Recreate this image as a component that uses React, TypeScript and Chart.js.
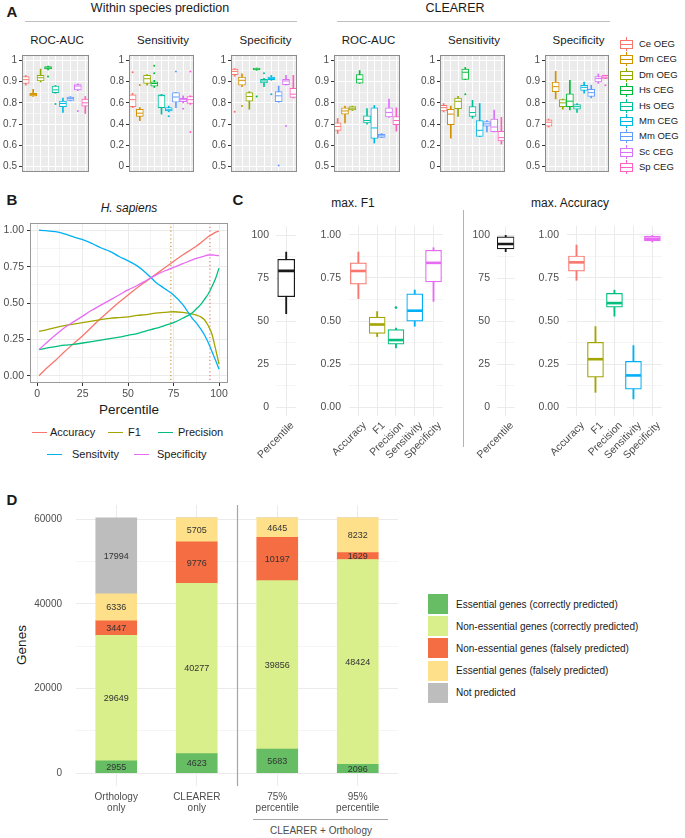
import React, { useEffect, useRef } from 'react';
import { Chart, registerables } from 'chart.js';

Chart.register(...registerables);

const FONT = '"Liberation Sans", Arial, Helvetica, sans-serif';
Chart.defaults.font.family = FONT;
const AXIS_TEXT = '#4D4D4D';
const TITLE_TEXT = '#1A1A1A';

// ---------------- Panel A data ----------------
const speciesSets = ['Ce OEG', 'Dm CEG', 'Dm OEG', 'Hs CEG', 'Hs OEG', 'Mm CEG', 'Mm OEG', 'Sc CEG', 'Sp CEG'];
const speciesColors = ['#F8766D', '#D39200', '#93AA00', '#00BA38', '#00C19F', '#00B9E3', '#619CFF', '#DB72FB', '#FF61C3'];

// each row: [min, q1, median, q3, max]
const withinRocAuc = [
  [0.883, 0.891, 0.909, 0.924, 0.929],
  [0.830, 0.833, 0.839, 0.845, 0.864],
  [0.898, 0.903, 0.918, 0.929, 0.959],
  [0.955, 0.959, 0.964, 0.970, 0.973],
  [0.845, 0.848, 0.861, 0.879, 0.882],
  [0.755, 0.782, 0.797, 0.808, 0.823],
  [0.809, 0.812, 0.820, 0.827, 0.830],
  [0.857, 0.861, 0.879, 0.886, 0.890],
  [0.750, 0.785, 0.800, 0.818, 0.830],
];
const withinRocAucOutliers = [[3, 0.924], [4, 0.795], [7, 0.762]];

const withinSensitivity = [
  [0.555, 0.564, 0.630, 0.676, 0.690],
  [0.433, 0.473, 0.503, 0.540, 0.555],
  [0.767, 0.782, 0.827, 0.858, 0.867],
  [0.745, 0.758, 0.782, 0.797, 0.812],
  [0.494, 0.555, 0.668, 0.676, 0.680],
  [0.515, 0.524, 0.535, 0.555, 0.570],
  [0.555, 0.606, 0.655, 0.697, 0.700],
  [0.600, 0.612, 0.630, 0.642, 0.667],
  [0.585, 0.594, 0.630, 0.660, 0.667],
];
const withinSensitivityOutliers = [[0, 0.888], [1, 0.767], [3, 0.948], [3, 0.879], [5, 0.473], [6, 0.894], [7, 0.545], [8, 0.894], [8, 0.327]];

const withinSpecificity = [
  [0.925, 0.933, 0.948, 0.959, 0.962],
  [0.876, 0.883, 0.906, 0.921, 0.936],
  [0.770, 0.808, 0.830, 0.848, 0.853],
  [0.953, 0.955, 0.958, 0.962, 0.964],
  [0.876, 0.894, 0.903, 0.911, 0.915],
  [0.906, 0.909, 0.915, 0.921, 0.929],
  [0.803, 0.806, 0.833, 0.853, 0.879],
  [0.883, 0.886, 0.903, 0.911, 0.929],
  [0.823, 0.826, 0.841, 0.868, 0.929],
];
const withinSpecificityOutliers = [[0, 0.758], [1, 0.785], [3, 0.830], [4, 0.939], [5, 0.841], [6, 0.505], [7, 0.691]];

const clearerRocAuc = [
  [0.656, 0.671, 0.689, 0.706, 0.727],
  [0.706, 0.747, 0.762, 0.777, 0.785],
  [0.764, 0.767, 0.775, 0.782, 0.785],
  [0.891, 0.893, 0.911, 0.933, 0.952],
  [0.700, 0.706, 0.717, 0.739, 0.773],
  [0.611, 0.633, 0.682, 0.777, 0.788],
  [0.636, 0.638, 0.645, 0.652, 0.656],
  [0.732, 0.734, 0.755, 0.777, 0.818],
  [0.667, 0.697, 0.717, 0.736, 0.777],
];
const clearerRocAucOutliers: number[][] = [];

const clearerSensitivity = [
  [0.515, 0.524, 0.555, 0.576, 0.594],
  [0.267, 0.394, 0.494, 0.539, 0.570],
  [0.473, 0.545, 0.615, 0.645, 0.661],
  [0.818, 0.820, 0.888, 0.918, 0.933],
  [0.455, 0.473, 0.509, 0.564, 0.624],
  [0.282, 0.284, 0.342, 0.433, 0.594],
  [0.327, 0.382, 0.403, 0.424, 0.433],
  [0.327, 0.329, 0.373, 0.448, 0.533],
  [0.212, 0.242, 0.273, 0.333, 0.464],
];
const clearerSensitivityOutliers = [[3, 0.682]];

const clearerSpecificity = [
  [0.686, 0.691, 0.709, 0.720, 0.724],
  [0.818, 0.853, 0.876, 0.898, 0.948],
  [0.770, 0.782, 0.800, 0.815, 0.818],
  [0.767, 0.782, 0.808, 0.842, 0.906],
  [0.755, 0.770, 0.782, 0.792, 0.797],
  [0.845, 0.858, 0.873, 0.883, 0.898],
  [0.823, 0.830, 0.848, 0.864, 0.883],
  [0.891, 0.898, 0.914, 0.924, 0.936],
  [0.914, 0.915, 0.921, 0.929, 0.930],
];
const clearerSpecificityOutliers = [[8, 0.883]];

const aTicksHigh = [0.5, 0.6, 0.7, 0.8, 0.9, 1];
const aMinorHigh = [0.55, 0.65, 0.75, 0.85, 0.95];
const aTicksFull = [0, 0.2, 0.4, 0.6, 0.8, 1];
const aMinorFull = [0.1, 0.3, 0.5, 0.7, 0.9];

// ---------------- Panel B data ----------------
const percentiles = [1, 5, 10, 15, 20, 25, 30, 35, 40, 45, 50, 55, 60, 65, 70, 75, 80, 85, 88, 90, 92, 94, 96, 98, 100];
const accuracy = [0.0, 0.05, 0.105, 0.165, 0.22, 0.275, 0.335, 0.395, 0.45, 0.505, 0.555, 0.605, 0.65, 0.695, 0.74, 0.785, 0.83, 0.87, 0.895, 0.915, 0.935, 0.955, 0.97, 0.985, 0.995];
const f1 = [0.305, 0.315, 0.33, 0.345, 0.355, 0.365, 0.375, 0.385, 0.395, 0.4, 0.405, 0.415, 0.42, 0.43, 0.435, 0.44, 0.435, 0.425, 0.415, 0.405, 0.385, 0.345, 0.29, 0.19, 0.08];
const precision = [0.18, 0.19, 0.2, 0.21, 0.215, 0.225, 0.235, 0.245, 0.255, 0.265, 0.278, 0.29, 0.308, 0.325, 0.345, 0.365, 0.395, 0.43, 0.465, 0.49, 0.525, 0.56, 0.61, 0.665, 0.74];
const sensitivity = [1.0, 0.997, 0.99, 0.975, 0.955, 0.935, 0.91, 0.88, 0.855, 0.82, 0.79, 0.755, 0.705, 0.645, 0.6, 0.555, 0.49, 0.4, 0.355, 0.32, 0.28, 0.23, 0.17, 0.11, 0.045];
const specificity = [0.18, 0.225, 0.28, 0.33, 0.37, 0.41, 0.45, 0.485, 0.52, 0.555, 0.59, 0.62, 0.655, 0.69, 0.72, 0.745, 0.77, 0.795, 0.808, 0.815, 0.823, 0.83, 0.83, 0.828, 0.825];
const bSeriesNames = ['Accuracy', 'F1', 'Precision', 'Sensitvity', 'Specificity'];
const bSeriesColors = ['#F8766D', '#A3A500', '#00BF7D', '#00B0F6', '#E76BF3'];
const optimumPercentiles = [73.5, 95];
const optimumColors = ['#C9A24A', '#F08080'];
const bXTicks = [0, 25, 50, 75, 100];
const bXMinor = [12.5, 37.5, 62.5, 87.5];
const bYTicks = [0, 0.25, 0.5, 0.75, 1];
const bYMinor = [0.125, 0.375, 0.625, 0.875];

// ---------------- Panel C data ----------------
const cPercentileLabel = ['Percentile'];
const cMetrics = ['Accuracy', 'F1', 'Precision', 'Sensitivity', 'Specificity'];
const cMetricColors = ['#F8766D', '#A3A500', '#00BF7D', '#00B0F6', '#E76BF3'];
const f1Percentile = [[54.5, 64.3, 79.3, 86.0, 90.2]];
const f1Metrics = [
  [0.63, 0.714, 0.79, 0.837, 0.90],
  [0.41, 0.429, 0.48, 0.523, 0.555],
  [0.344, 0.366, 0.39, 0.45, 0.46],
  [0.47, 0.50, 0.56, 0.658, 0.68],
  [0.614, 0.727, 0.837, 0.91, 0.925],
];
const f1MetricOutliers = [[2, 0.578]];
const accPercentile = [[90.5, 92.0, 94.9, 99.0, 100]];
const accMetrics = [
  [0.736, 0.789, 0.84, 0.877, 0.94],
  [0.087, 0.175, 0.279, 0.377, 0.468],
  [0.528, 0.581, 0.604, 0.66, 0.679],
  [0.049, 0.106, 0.185, 0.266, 0.358],
  [0.958, 0.964, 0.977, 0.992, 0.996],
];
const cPctTicks = [0, 25, 50, 75, 100];
const cPctMinor = [12.5, 37.5, 62.5, 87.5];
const cValTicks = [0, 0.25, 0.5, 0.75, 1];
const cValMinor = [0.125, 0.375, 0.625, 0.875];

// ---------------- Panel D data ----------------
const dCategories = [['Orthology', 'only'], ['CLEARER', 'only'], ['75%', 'percentile'], ['95%', 'percentile']];
const essentialCorrect = [2955, 4623, 5683, 2096];
const nonEssentialCorrect = [29649, 40277, 39856, 48424];
const nonEssentialFalse = [3447, 9776, 10197, 1629];
const essentialFalse = [6336, 5705, 4645, 8232];
const notPredicted = [17994, 0, 0, 0];
const dSeriesNames = [
  'Essential genes (correctly predicted)',
  'Non-essential genes (correctly predicted)',
  'Non-essential genes (falsely predicted)',
  'Essential genes (falsely predicted)',
  'Not predicted',
];
const dSeriesColors = ['#66BD63', '#D9EF8B', '#F46D43', '#FEE08B', '#BDBDBD'];
const dTicks = [0, 20000, 40000, 60000];
const dMinor = [10000, 30000, 50000];

// ---------------- helpers ----------------
const baseOptions = () => ({
  animation: false,
  responsive: false,
  maintainAspectRatio: false,
  devicePixelRatio: 1,
  events: [],
  plugins: { legend: { display: false }, tooltip: { enabled: false }, title: { display: false } },
});

const noPad = (s: any) => {
  s.paddingLeft = 0;
  s.paddingRight = 0;
  s.paddingTop = 0;
  s.paddingBottom = 0;
};

function valueAxis(o: any) {
  const all = [...o.majors, ...o.minors].sort((a: number, b: number) => a - b);
  const isMajor = (v: any) => o.majors.some((m: number) => Math.abs(m - v) < 1e-9);
  return {
    type: 'linear',
    min: o.min,
    max: o.max,
    afterBuildTicks: (s: any) => { s.ticks = all.map((v: number) => ({ value: v })); },
    afterFit: (s: any) => {
      if (o.horizontal) s.height = o.size2; else s.width = o.size2;
      noPad(s);
    },
    ticks: {
      autoSkip: false,
      padding: o.pad,
      color: AXIS_TEXT,
      font: { size: o.font, family: FONT },
      maxRotation: 0,
      minRotation: 0,
      callback: (v: any) => (isMajor(v) ? o.fmt(v) : ''),
    },
    grid: {
      color: o.grid,
      lineWidth: (c: any) => (c.tick && isMajor(c.tick.value) ? 1 : 0.5),
      drawTicks: !!o.tickMark,
      tickLength: 3,
      tickWidth: 1,
      tickColor: (c: any) => (c.tick && isMajor(c.tick.value) ? o.tickMark : 'rgba(0,0,0,0)'),
    },
    border: { display: false },
  };
}

function catAxis(o: any) {
  return {
    type: 'category',
    offset: true,
    stacked: !!o.stacked,
    afterFit: (s: any) => { s.height = o.height; noPad(s); },
    grid: { offset: false, color: o.grid, lineWidth: 1, drawTicks: false },
    border: { display: false },
    ticks: {
      display: !!o.labels,
      autoSkip: false,
      color: AXIS_TEXT,
      font: { size: o.font || 10, family: FONT, lineHeight: 1.1 },
      maxRotation: 0,
      minRotation: 0,
      padding: o.pad ?? 2,
    },
  };
}

function boxDatasets(labels: string[], stats: number[][], colors: string[], outliers: number[][], s: any) {
  return [
    {
      type: 'line', data: stats.map((q) => q[2]), showLine: false, pointStyle: 'line',
      pointRadius: s.box / 2 - 0.5, pointBorderWidth: s.median, pointBorderColor: colors,
      pointBackgroundColor: colors, order: 0,
    },
    {
      type: 'line', data: outliers.map(([i, v]) => ({ x: labels[i], y: v })), showLine: false,
      pointStyle: 'circle', pointRadius: s.point, pointBorderWidth: 0,
      pointBackgroundColor: outliers.map(([i]) => colors[i]), order: 0,
    },
    {
      type: 'bar', data: stats.map((q) => [q[1], q[3]]), backgroundColor: '#FFFFFF', borderColor: colors,
      borderWidth: s.line, borderSkipped: false, barThickness: s.box, grouped: false, order: 1,
    },
    {
      type: 'bar', data: stats.map((q) => [q[0], q[4]]), backgroundColor: colors, borderWidth: 0,
      barThickness: s.line, grouped: false, order: 2,
    },
  ];
}

function panelPlugin(bg: string | null, border: string | null) {
  return {
    id: 'panelDeco',
    beforeDraw(chart: any) {
      if (!bg) return;
      const { ctx, chartArea: a } = chart;
      ctx.save();
      ctx.fillStyle = bg;
      ctx.fillRect(a.left, a.top, a.right - a.left, a.bottom - a.top);
      ctx.restore();
    },
    afterDraw(chart: any) {
      if (!border) return;
      const { ctx, chartArea: a } = chart;
      ctx.save();
      ctx.strokeStyle = border;
      ctx.lineWidth = 1;
      ctx.strokeRect(Math.round(a.left) + 0.5, Math.round(a.top) + 0.5, Math.round(a.right - a.left) - 1, Math.round(a.bottom - a.top) - 1);
      ctx.restore();
    },
  };
}

// x labels of panel C, drawn at exactly 45 degrees with their end at each category tick
const rotatedLabelPlugin = {
  id: 'rotatedLabels',
  afterDraw(chart: any) {
    const { ctx, chartArea: a } = chart;
    const xs = chart.scales.x;
    ctx.save();
    ctx.font = `10.5px ${FONT}`;
    ctx.fillStyle = AXIS_TEXT;
    ctx.textAlign = 'right';
    ctx.textBaseline = 'top';
    chart.data.labels.forEach((lab: string, i: number) => {
      const px = xs.getPixelForValue(i);
      ctx.save();
      ctx.translate(px + 2.5, a.bottom + 4);
      ctx.rotate(-Math.PI / 4);
      ctx.fillText(lab, 0, 0);
      ctx.restore();
    });
    ctx.restore();
  },
};

const trim = (v: number) => String(Number(v.toFixed(2)));

function ChartCanvas({ left, top, width, height, make }: any) {
  const ref = useRef<HTMLCanvasElement>(null);
  useEffect(() => {
    const chart = new Chart(ref.current as HTMLCanvasElement, make());
    return () => chart.destroy();
  }, []);
  return (
    <canvas
      ref={ref}
      width={width}
      height={height}
      style={{ position: 'absolute', left, top, width, height, display: 'block' }}
    />
  );
}

function Txt({ x, y, children, size = 11, align = 'center', color = TITLE_TEXT, bold = false, italic = false, w = 300 }: any) {
  const lh = Math.round(size * 1.25);
  const left = align === 'center' ? x - w / 2 : x;
  return (
    <div
      style={{
        position: 'absolute', left, top: y - lh / 2, width: w, height: lh, lineHeight: `${lh}px`,
        fontSize: size, textAlign: align, color, fontWeight: bold ? 700 : 400,
        fontStyle: italic ? 'italic' : 'normal', fontFamily: FONT, whiteSpace: 'nowrap',
      }}
    >
      {children}
    </div>
  );
}

function HLine({ x, y, w, color = '#BFBFBF', t = 1 }: any) {
  return <div style={{ position: 'absolute', left: x, top: y, width: w, height: t, background: color }} />;
}
function VLine({ x, y, h, color = '#B3B3B3', t = 1 }: any) {
  return <div style={{ position: 'absolute', left: x, top: y, width: t, height: h, background: color }} />;
}

// ---------------- Panel A ----------------
const aPanels = [
  { L: 22, R: 92, title: 'ROC-AUC', stats: withinRocAuc, out: withinRocAucOutliers, majors: aTicksHigh, minors: aMinorHigh },
  { L: 129, R: 197, title: 'Sensitivity', stats: withinSensitivity, out: withinSensitivityOutliers, majors: aTicksFull, minors: aMinorFull },
  { L: 231, R: 300, title: 'Specificity', stats: withinSpecificity, out: withinSpecificityOutliers, majors: aTicksHigh, minors: aMinorHigh },
  { L: 334, R: 403, title: 'ROC-AUC', stats: clearerRocAuc, out: clearerRocAucOutliers, majors: aTicksHigh, minors: aMinorHigh },
  { L: 440, R: 508, title: 'Sensitivity', stats: clearerSensitivity, out: clearerSensitivityOutliers, majors: aTicksFull, minors: aMinorFull },
  { L: 545, R: 612, title: 'Specificity', stats: clearerSpecificity, out: clearerSpecificityOutliers, majors: aTicksHigh, minors: aMinorHigh },
];

function makeA(p: any) {
  return () => {
    const lo = p.majors[0];
    const hi = p.majors[p.majors.length - 1];
    const ext = (hi - lo) * 0.05;
    return {
      type: 'bar',
      data: { labels: speciesSets, datasets: boxDatasets(speciesSets, p.stats, speciesColors, p.out, { box: 7, line: 1, median: 1, point: 1 }) },
      options: {
        ...baseOptions(),
        layout: { padding: { top: 4, bottom: 4, left: 0, right: 2 } },
        scales: {
          x: catAxis({ grid: '#FFFFFF', height: 0 }),
          y: valueAxis({ min: lo - ext, max: hi + ext, majors: p.majors, minors: p.minors, fmt: trim, size2: 24, grid: '#FFFFFF', tickMark: '#333333', pad: 2, font: 10 }),
        },
      },
      plugins: [panelPlugin('#EBEBEB', '#8C8C8C')],
    };
  };
}

function LegendA() {
  return (
    <>
      {speciesSets.map((s, i) => {
        const cy = 44 + i * 15.4;
        const c = speciesColors[i];
        return (
          <React.Fragment key={s}>
            <div style={{ position: 'absolute', left: 626, top: cy - 7, width: 1, height: 14, background: c }} />
            <div style={{ position: 'absolute', left: 620, top: cy - 4, width: 11, height: 7, border: `1px solid ${c}`, background: '#fff' }} />
            <div style={{ position: 'absolute', left: 621, top: cy, width: 11, height: 1, background: c }} />
            <Txt x={639} y={cy} size={9.5} align="left" w={50}>{s}</Txt>
          </React.Fragment>
        );
      })}
    </>
  );
}

// ---------------- Panel B ----------------
const optimumPlugin = {
  id: 'optimum',
  beforeDatasetsDraw(chart: any) {
    const { ctx, chartArea: a } = chart;
    const xs = chart.scales.x;
    ctx.save();
    ctx.setLineDash([1.2, 2.6]);
    ctx.lineWidth = 1.3;
    optimumPercentiles.forEach((p, i) => {
      const px = xs.getPixelForValue(p);
      ctx.strokeStyle = optimumColors[i];
      ctx.beginPath();
      ctx.moveTo(px, a.top);
      ctx.lineTo(px, a.bottom);
      ctx.stroke();
    });
    ctx.restore();
  },
};

function makeB() {
  const series = [accuracy, f1, precision, sensitivity, specificity];
  return {
    type: 'line',
    data: {
      datasets: series.map((s, i) => ({
        label: bSeriesNames[i],
        data: percentiles.map((p, j) => ({ x: p, y: s[j] })),
        borderColor: bSeriesColors[i],
        borderWidth: 1.3,
        pointRadius: 0,
        cubicInterpolationMode: 'monotone',
        fill: false,
        order: 5 - i,
      })),
    },
    options: {
      ...baseOptions(),
      layout: { padding: { top: 4, bottom: 0, left: 0, right: 4 } },
      scales: {
        x: valueAxis({ horizontal: true, min: -3.95, max: 104.95, majors: bXTicks, minors: bXMinor, fmt: (v: number) => String(v), size2: 18, grid: '#EBEBEB', tickMark: '#333333', pad: 2, font: 10.5 }),
        y: valueAxis({ min: -0.05, max: 1.05, majors: bYTicks, minors: bYMinor, fmt: (v: number) => v.toFixed(2), size2: 30, grid: '#EBEBEB', tickMark: '#333333', pad: 3, font: 10.5 }),
      },
    },
    plugins: [panelPlugin(null, '#9A9A9A'), optimumPlugin],
  };
}

function LegendB() {
  const items = [
    { i: 0, kx: 32, tx: 50, y: 432 },
    { i: 1, kx: 108, tx: 128, y: 432 },
    { i: 2, kx: 158, tx: 178, y: 432 },
    { i: 3, kx: 47, tx: 72, y: 454 },
    { i: 4, kx: 134, tx: 157, y: 454 },
  ];
  return (
    <>
      {items.map((it) => (
        <React.Fragment key={it.i}>
          <div style={{ position: 'absolute', left: it.kx, top: it.y - 0.5, width: 15, height: 1.3, background: bSeriesColors[it.i] }} />
          <Txt x={it.tx} y={it.y} size={11} align="left" w={80}>{bSeriesNames[it.i]}</Txt>
        </React.Fragment>
      ))}
    </>
  );
}

// ---------------- Panel C ----------------
const C_X_AXIS = { grid: '#EBEBEB', height: 44, labels: false };

function makeCPercentile(stats: number[][]) {
  return () => ({
    type: 'bar',
    data: { labels: cPercentileLabel, datasets: boxDatasets(cPercentileLabel, stats, ['#1A1A1A'], [], { box: 17, line: 1.2, median: 2.6, point: 1.3 }) },
    options: {
      ...baseOptions(),
      layout: { padding: { top: 4, bottom: 0, left: 0, right: 2 } },
      scales: {
        x: catAxis(C_X_AXIS),
        y: valueAxis({ min: -5, max: 105, majors: cPctTicks, minors: cPctMinor, fmt: (v: number) => String(v), size2: 32, grid: '#EBEBEB', tickMark: null, pad: 7, font: 10.5 }),
      },
    },
    plugins: [rotatedLabelPlugin],
  });
}

function makeCMetrics(stats: number[][], outliers: number[][]) {
  return () => ({
    type: 'bar',
    data: { labels: cMetrics, datasets: boxDatasets(cMetrics, stats, cMetricColors, outliers, { box: 16, line: 1.2, median: 2.6, point: 1.3 }) },
    options: {
      ...baseOptions(),
      layout: { padding: { top: 4, bottom: 0, left: 0, right: 4 } },
      scales: {
        x: catAxis(C_X_AXIS),
        y: valueAxis({ min: -0.05, max: 1.05, majors: cValTicks, minors: cValMinor, fmt: (v: number) => v.toFixed(2), size2: 42, grid: '#EBEBEB', tickMark: null, pad: 8, font: 10.5 }),
      },
    },
    plugins: [rotatedLabelPlugin],
  });
}

// ---------------- Panel D ----------------
const segmentLabelPlugin = {
  id: 'segLabels',
  afterDatasetsDraw(chart: any) {
    const { ctx } = chart;
    ctx.save();
    ctx.font = `9px ${FONT}`;
    ctx.fillStyle = '#333333';
    ctx.textAlign = 'center';
    ctx.textBaseline = 'middle';
    chart.data.datasets.forEach((ds: any, di: number) => {
      const meta = chart.getDatasetMeta(di);
      meta.data.forEach((el: any, i: number) => {
        const v = ds.data[i];
        if (!v) return;
        ctx.fillText(String(v), el.x, (el.y + el.base) / 2 + 0.5);
      });
    });
    ctx.restore();
  },
};

const groupSeparatorPlugin = {
  id: 'groupSep',
  afterDatasetsDraw(chart: any) {
    const { ctx, chartArea: a } = chart;
    const px = Math.round(chart.scales.x.getPixelForValue(1.5)) + 0.5;
    ctx.save();
    ctx.strokeStyle = '#A6A6A6';
    ctx.lineWidth = 1.2;
    ctx.beginPath();
    ctx.moveTo(px, a.top);
    ctx.lineTo(px, a.bottom);
    ctx.stroke();
    ctx.restore();
  },
};

function makeD() {
  const series = [essentialCorrect, nonEssentialCorrect, nonEssentialFalse, essentialFalse, notPredicted];
  return {
    type: 'bar',
    data: {
      labels: dCategories,
      datasets: series.map((s, i) => ({
        label: dSeriesNames[i],
        data: s,
        backgroundColor: dSeriesColors[i],
        borderWidth: 0,
        barThickness: 41,
        stack: 'genes',
      })),
    },
    options: {
      ...baseOptions(),
      layout: { padding: { top: 5, bottom: 0, left: 0, right: 4 } },
      scales: {
        x: catAxis({ grid: '#EBEBEB', height: 30, labels: true, font: 10, pad: 6, stacked: true }),
        y: { ...valueAxis({ min: -3019, max: 63400, majors: dTicks, minors: dMinor, fmt: (v: number) => String(v), size2: 46, grid: '#EBEBEB', tickMark: null, pad: 14, font: 10 }), stacked: true },
      },
    },
    plugins: [segmentLabelPlugin, groupSeparatorPlugin],
  };
}

function LegendD() {
  return (
    <>
      {dSeriesNames.map((n, i) => {
        const cy = 604 + i * 22.2;
        return (
          <React.Fragment key={n}>
            <div style={{ position: 'absolute', left: 428, top: cy - 10, width: 20, height: 20, background: dSeriesColors[i] }} />
            <Txt x={456} y={cy} size={10} align="left" w={220}>{n}</Txt>
          </React.Fragment>
        );
      })}
    </>
  );
}

export default function App() {
  return (
    <div style={{ position: 'absolute', left: 0, top: 0, width: 685, height: 838, background: '#FFFFFF', overflow: 'hidden', fontFamily: FONT }}>
      {/* Panel A */}
      <Txt x={12} y={11} size={15} bold w={20}>A</Txt>
      <Txt x={160} y={8} size={12.5}>Within species prediction</Txt>
      <HLine x={25} y={21} w={272} />
      <Txt x={455} y={8} size={12.5}>CLEARER</Txt>
      <HLine x={337} y={21} w={273} />
      {aPanels.map((p, i) => (
        <React.Fragment key={i}>
          <Txt x={(p.L + p.R) / 2} y={40} size={11.5}>{p.title}</Txt>
          <ChartCanvas left={p.L - 24} top={50} width={p.R - p.L + 26} height={127} make={makeA(p)} />
        </React.Fragment>
      ))}
      <LegendA />

      {/* Panel B */}
      <Txt x={12} y={199} size={15} bold w={20}>B</Txt>
      <Txt x={129} y={208} size={12} italic>H. sapiens</Txt>
      <ChartCanvas left={0} top={219} width={232} height={182} make={makeB} />
      <Txt x={129} y={409} size={13.5}>Percentile</Txt>
      <LegendB />

      {/* Panel C */}
      <Txt x={238} y={199} size={15} bold w={20}>C</Txt>
      <Txt x={353} y={203} size={12}>max. F1</Txt>
      <Txt x={570} y={203} size={12}>max. Accuracy</Txt>
      <ChartCanvas left={244} top={216} width={63} height={244} make={makeCPercentile(f1Percentile)} />
      <ChartCanvas left={307} top={216} width={146} height={244} make={makeCMetrics(f1Metrics, f1MetricOutliers)} />
      <VLine x={463} y={210} h={237} />
      <ChartCanvas left={465} top={216} width={60} height={244} make={makeCPercentile(accPercentile)} />
      <ChartCanvas left={525} top={216} width={147} height={244} make={makeCMetrics(accMetrics, [])} />

      {/* Panel D */}
      <Txt x={12} y={499} size={15} bold w={20}>D</Txt>
      <div style={{ position: 'absolute', left: 22 - 30, top: 645 - 9, width: 60, height: 18, lineHeight: '18px', fontSize: 13.5, textAlign: 'center', color: TITLE_TEXT, fontFamily: FONT, transform: 'rotate(-90deg)' }}>Genes</div>
      <ChartCanvas left={30} top={500} width={372} height={316} make={makeD} />
      <HLine x={253} y={819} w={135} color="#A6A6A6" />
      <Txt x={321} y={830} size={10} color={AXIS_TEXT}>CLEARER + Orthology</Txt>
      <LegendD />
    </div>
  );
}
